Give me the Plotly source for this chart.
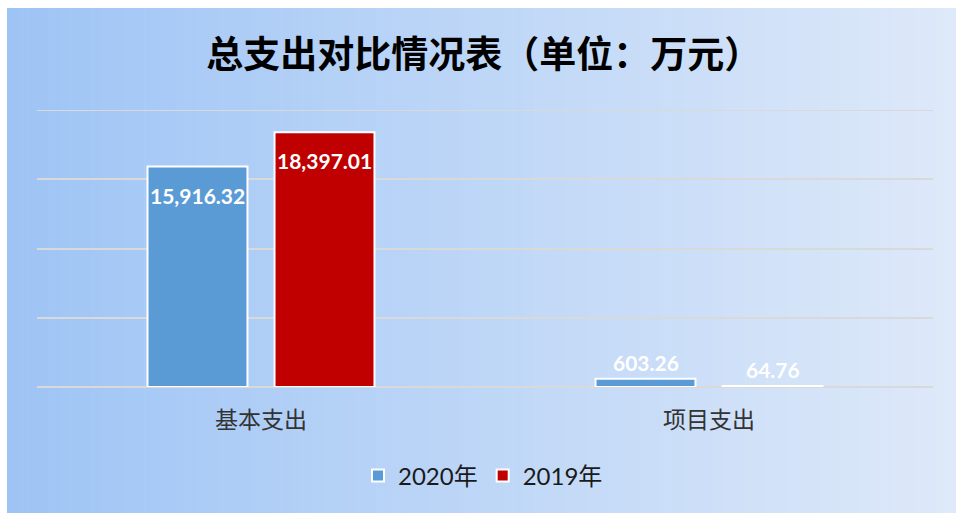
import plotly.graph_objects as go

categories = ["基本支出", "项目支出"]
series_names = ["2020年", "2019年"]
values_2020 = [15916.32, 603.26]
values_2019 = [18397.01, 64.76]
title_text = "总支出对比情况表（单位：万元）"

W, H = 956, 513
L, R, T, B = 37, 23, 110, 126
pw, ph = W - L - R, H - T - B
y_max = 20000

def px_to_paper_x(px):
    return (px - L) / pw

def px_to_paper_y(py):
    return (H - B - py) / ph

# gradient background via stripes (white border at top/left as in the picture)
c0 = (158, 196, 245)
c1 = (222, 233, 249)
x_start, y_start = 7, 8
shapes = []
n = 90
for i in range(n):
    a = x_start + (W - x_start) * i / n
    b = x_start + (W - x_start) * (i + 1) / n + 0.6
    t = (i + 0.5) / n
    col = tuple(round(c0[k] + (c1[k] - c0[k]) * t) for k in range(3))
    shapes.append(dict(type="rect", xref="paper", yref="paper",
                       x0=px_to_paper_x(a), x1=px_to_paper_x(b),
                       y0=px_to_paper_y(H + 2), y1=px_to_paper_y(y_start),
                       fillcolor="rgb(%d,%d,%d)" % col, line=dict(width=0),
                       layer="below"))
# top gridline at the axis maximum
shapes.append(dict(type="line", xref="paper", yref="y", x0=0, x1=1,
                   y0=y_max, y1=y_max, line=dict(color="#D9D9D9", width=2),
                   layer="below"))

label_font = dict(family="Lato, Open Sans, sans-serif", size=21, color="white")

series = [(series_names[0], values_2020, "#5B9BD5"),
          (series_names[1], values_2019, "#C00000")]

fig = go.Figure()
for name, vals, color in series:
    fig.add_trace(go.Bar(
        x=categories, y=vals, name=name,
        marker=dict(color=color, line=dict(color="white", width=2)),
        cliponaxis=False,
    ))

# data labels
slot_px = 127
annotations = []
for i, (name, vals, color) in enumerate(series):
    for cat, v in zip(categories, vals):
        inside = v > 0.1 * y_max
        annotations.append(dict(
            x=cat, y=v, xref="x", yref="y", text="<b>%s</b>" % f"{v:,.2f}",
            showarrow=False, font=label_font,
            xshift=(i - 0.5) * slot_px,
            yanchor="top" if inside else "bottom",
            yshift=-14 if inside else 2,
        ))

fig.update_layout(
    width=W, height=H,
    margin=dict(l=L, r=R, t=T, b=B, pad=0),
    paper_bgcolor="white", plot_bgcolor="rgba(0,0,0,0)",
    shapes=shapes, annotations=annotations,
    barmode="group", bargap=0.433, bargroupgap=0.213,
    title=dict(text="<b>" + title_text + "</b>", x=0.506, xanchor="center",
               xref="container", yref="container", y=1 - 55 / H, yanchor="middle",
               font=dict(family="Noto Sans CJK SC", size=37, color="black")),
    legend=dict(orientation="h", x=px_to_paper_x(483), xanchor="center",
                y=px_to_paper_y(476), yanchor="middle", bgcolor="rgba(0,0,0,0)",
                font=dict(family="Lato, Noto Sans CJK SC", size=24, color="#1a1a1a"),
                itemwidth=30, traceorder="normal"),
    showlegend=True,
)
fig.update_xaxes(showgrid=False, showline=False, zeroline=False,
                 ticks="outside", ticklen=12, tickcolor="rgba(0,0,0,0)",
                 tickfont=dict(family="Noto Sans CJK SC", size=23, color="#333333"))
fig.update_yaxes(range=[0, y_max], dtick=5000, showticklabels=False,
                 showgrid=True, gridcolor="#D9D9D9", gridwidth=2,
                 zeroline=True, zerolinecolor="#D9D9D9", zerolinewidth=2,
                 showline=False)

fig.write_html("out.html", config={"displayModeBar": False},
               post_script="document.body.style.margin='0';"
                           "document.body.style.overflow='hidden';")
